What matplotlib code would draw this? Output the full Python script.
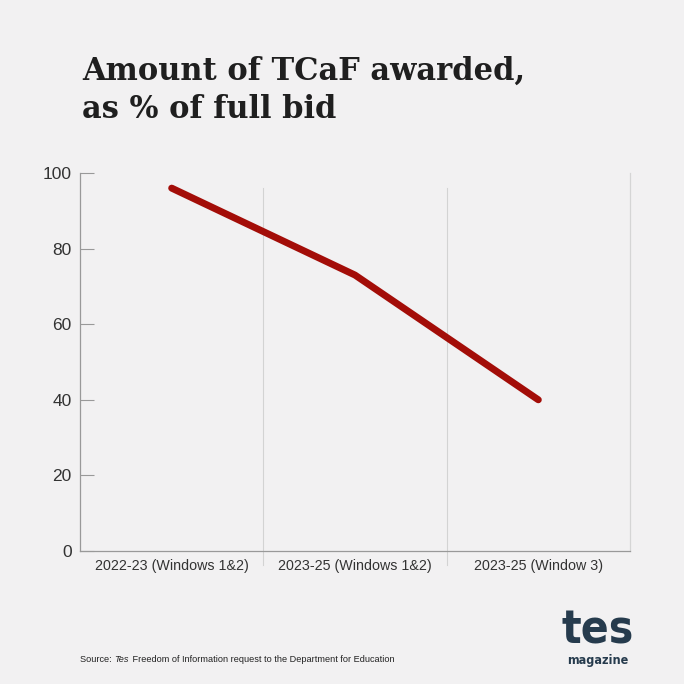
import matplotlib
matplotlib.use("Agg")
import matplotlib.pyplot as plt

categories = ["2022-23 (Windows 1&2)", "2023-25 (Windows 1&2)", "2023-25 (Window 3)"]
values = [96, 73, 40]
y_ticks = [0, 20, 40, 60, 80, 100]

bg = "#f2f1f2"
red = "#a30d08"
navy = "#263b4d"

fig = plt.figure(figsize=(6.84, 6.84), dpi=100, facecolor=bg)
ax = fig.add_axes([80/684, 133/684, 550/684, 378/684])
ax.set_facecolor(bg)

x = list(range(len(categories)))
ax.plot(x, values, color=red, lw=5, solid_capstyle="round", zorder=3)

ax.set_xlim(-0.5, len(categories) - 0.5)
ax.set_ylim(0, 100)
ax.set_yticks(y_ticks)
ax.set_xticks(x)
ax.set_xticklabels(categories, fontsize=10.3, family="Liberation Sans", color="#333333")
ax.set_yticklabels([str(t) for t in y_ticks], fontsize=12.5, family="Liberation Sans", color="#333333")
ax.tick_params(axis="y", direction="in", length=10, color="#999999", pad=6)
ax.tick_params(axis="x", length=0, pad=6)

ax.spines["top"].set_visible(False)
for s in ["left", "bottom", "right"]:
    ax.spines[s].set_color("#999999")
    ax.spines[s].set_linewidth(0.9)
ax.spines["right"].set_color("#d5d5d5")

# category separators
for xs in [i + 0.5 for i in range(len(categories) - 1)]:
    ax.plot([xs, xs], [-0.037, 0.96], transform=ax.get_xaxis_transform(),
            color="#d3d3d3", lw=0.8, clip_on=False, zorder=1)

title_kw = dict(family="DejaVu Serif", weight="bold", fontsize=22, color="#1f1f1f",
                va="baseline", ha="left")
fig.text(82/684, 1 - 80/684, "Amount of TCaF awarded,", **title_kw)
fig.text(82/684, 1 - 118/684, "as % of full bid", **title_kw)

# source line, pieces placed side by side
fig.canvas.draw()
r = fig.canvas.get_renderer()
src_y = 1 - 662/684
xpos = 80
for txt, st in [("Source: ", "normal"), ("Tes", "italic"),
                (" Freedom of Information request to the Department for Education", "normal")]:
    t = fig.text(xpos/684, src_y, txt, fontsize=6.6, family="Liberation Sans", style=st,
                 color="#222222", va="baseline")
    xpos += t.get_window_extent(r).width + (1.5 if st == "italic" else 0)

# logo
fig.text(598/684, 1 - 643/684, "tes", fontsize=33, weight="heavy", family="DejaVu Sans",
         stretch="condensed", color=navy, ha="center", va="baseline")
fig.text(598/684, 1 - 664/684, "magazine", fontsize=9, weight="bold", family="DejaVu Sans",
         stretch="condensed", color=navy, ha="center", va="baseline")

fig.savefig("out.png", dpi=100, facecolor=bg)
